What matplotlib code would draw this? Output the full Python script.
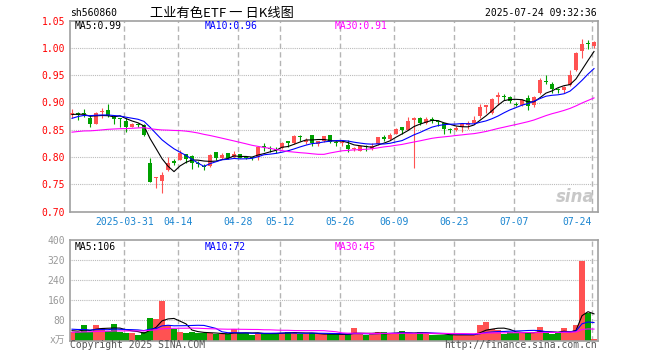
import numpy as np
import pandas as pd
import matplotlib
matplotlib.use('Agg')
import matplotlib.pyplot as plt

plt.rcParams['font.family'] = ['DejaVu Sans Mono', 'Noto Sans CJK SC']

# ---------------- data ----------------
holidays = ['2025-04-04', '2025-05-01', '2025-05-02', '2025-05-05', '2025-06-02']
dates = [d for d in pd.bdate_range('2025-03-18', '2025-07-24')
         if d.strftime('%Y-%m-%d') not in holidays]
tick_dates = ['2025-03-31', '2025-04-14', '2025-04-28', '2025-05-12', '2025-05-26',
              '2025-06-09', '2025-06-23', '2025-07-07', '2025-07-24']

opens = [0.878, 0.880, 0.880, 0.872, 0.860, 0.882, 0.887, 0.874, 0.871, 0.866,
         0.856, 0.861, 0.858, 0.790, 0.762, 0.756, 0.776, 0.792, 0.795, 0.805,
         0.802, 0.790, 0.784, 0.783, 0.809, 0.799, 0.807, 0.801, 0.806, 0.800,
         0.800, 0.801, 0.820, 0.816, 0.815, 0.816, 0.830, 0.826, 0.837, 0.828,
         0.840, 0.824, 0.829, 0.840, 0.827, 0.825, 0.823, 0.815, 0.812, 0.819,
         0.815, 0.824, 0.836, 0.833, 0.843, 0.855, 0.850, 0.868, 0.871, 0.862,
         0.869, 0.866, 0.862, 0.850, 0.849, 0.855, 0.858, 0.862, 0.875, 0.891,
         0.880, 0.910, 0.912, 0.910, 0.898, 0.895, 0.909, 0.895, 0.917, 0.940,
         0.934, 0.924, 0.923, 0.932, 0.959, 0.994, 1.009, 1.004]
highs = [0.889, 0.882, 0.888, 0.877, 0.883, 0.890, 0.898, 0.877, 0.871, 0.871,
         0.862, 0.862, 0.860, 0.799, 0.764, 0.772, 0.801, 0.797, 0.813, 0.806,
         0.803, 0.792, 0.787, 0.805, 0.810, 0.807, 0.808, 0.811, 0.806, 0.801,
         0.801, 0.820, 0.826, 0.820, 0.818, 0.827, 0.830, 0.840, 0.840, 0.835,
         0.840, 0.829, 0.838, 0.840, 0.830, 0.832, 0.832, 0.819, 0.821, 0.823,
         0.825, 0.837, 0.841, 0.844, 0.853, 0.856, 0.873, 0.874, 0.874, 0.873,
         0.873, 0.868, 0.863, 0.853, 0.857, 0.862, 0.867, 0.875, 0.897, 0.895,
         0.908, 0.920, 0.915, 0.912, 0.901, 0.907, 0.914, 0.911, 0.944, 0.951,
         0.938, 0.926, 0.930, 0.959, 0.992, 1.017, 1.015, 1.012]
lows = [0.872, 0.868, 0.874, 0.855, 0.860, 0.871, 0.874, 0.860, 0.855, 0.846,
        0.855, 0.856, 0.838, 0.754, 0.743, 0.735, 0.775, 0.785, 0.794, 0.789,
        0.779, 0.782, 0.776, 0.781, 0.795, 0.797, 0.797, 0.799, 0.798, 0.796,
        0.795, 0.795, 0.812, 0.810, 0.808, 0.815, 0.819, 0.824, 0.830, 0.824,
        0.820, 0.820, 0.827, 0.826, 0.820, 0.821, 0.809, 0.812, 0.811, 0.812,
        0.813, 0.822, 0.829, 0.832, 0.842, 0.843, 0.849, 0.780, 0.859, 0.861,
        0.862, 0.857, 0.843, 0.844, 0.847, 0.846, 0.852, 0.861, 0.872, 0.881,
        0.879, 0.895, 0.904, 0.899, 0.893, 0.894, 0.886, 0.892, 0.915, 0.934,
        0.917, 0.917, 0.917, 0.930, 0.957, 0.981, 0.998, 0.999]
closes = [0.880, 0.878, 0.879, 0.860, 0.881, 0.883, 0.876, 0.869, 0.869, 0.856,
          0.861, 0.859, 0.840, 0.755, 0.764, 0.768, 0.790, 0.790, 0.807, 0.797,
          0.790, 0.788, 0.782, 0.804, 0.799, 0.804, 0.799, 0.805, 0.799, 0.799,
          0.798, 0.818, 0.818, 0.815, 0.813, 0.826, 0.825, 0.838, 0.836, 0.832,
          0.826, 0.829, 0.838, 0.828, 0.825, 0.827, 0.815, 0.817, 0.820, 0.818,
          0.820, 0.836, 0.834, 0.841, 0.851, 0.850, 0.867, 0.871, 0.863, 0.869,
          0.867, 0.864, 0.851, 0.849, 0.854, 0.860, 0.863, 0.868, 0.892, 0.895,
          0.907, 0.913, 0.910, 0.903, 0.896, 0.904, 0.893, 0.910, 0.941, 0.938,
          0.924, 0.922, 0.929, 0.951, 0.990, 1.008, 1.007, 1.011]
volumes = [35, 33, 62, 33, 62, 49, 38, 66, 32, 28,
           28, 23, 35, 89, 85, 158, 62, 45, 35, 31,
           35, 31, 29, 29, 25, 25, 25, 45, 29, 29,
           22, 29, 29, 29, 29, 29, 35, 35, 25, 25,
           29, 25, 25, 24, 24, 24, 24, 49, 24, 21,
           24, 33, 33, 28, 28, 37, 28, 28, 35, 26,
           23, 23, 23, 21, 23, 23, 23, 23, 61, 75,
           44, 41, 25, 35, 28, 31, 35, 28, 52, 31,
           25, 28, 49, 38, 60, 318, 108, 6]

# sessions before the visible window (needed for the moving averages)
prior_closes = [0.842, 0.848, 0.855, 0.858, 0.852, 0.846, 0.850, 0.853, 0.849, 0.847,
                0.838, 0.825, 0.812, 0.803, 0.798, 0.800, 0.808, 0.815, 0.826, 0.835,
                0.845, 0.858, 0.866, 0.872, 0.879, 0.875, 0.880, 0.878, 0.877]
prior_volumes = [25, 28, 24, 30, 27, 26, 29, 31, 25, 27,
                 28, 26, 24, 30, 27, 29, 26, 28, 27, 23,
                 45, 62, 55, 48, 45, 42, 38, 44, 36]

# ---------------- derived ----------------
n = len(closes)
x = np.arange(n)
o = np.array(opens); h = np.array(highs); l = np.array(lows); c = np.array(closes)
v = np.array(volumes, dtype=float)
up = c >= o

all_c = pd.Series(prior_closes + closes)
all_v = pd.Series(prior_volumes + volumes, dtype=float)
np_ = len(prior_closes)
ma = {k: all_c.rolling(k).mean().values[np_:] for k in (5, 10, 30)}
vma = {k: all_v.rolling(k).mean().values[np_:] for k in (5, 10, 30)}

date_str = [d.strftime('%Y-%m-%d') for d in dates]
tick_idx = [date_str.index(t) for t in tick_dates]
tick_lbl = [tick_dates[0]] + [t[5:] for t in tick_dates[1:]]

RED = '#FF5252'
GREEN = '#00A000'
GRID = '#b4b4b4'
FRAME = '#a0a0a0'

W, H = 660, 360
fig = plt.figure(figsize=(6.6, 3.6), dpi=100)
L, R = 70, 597.7
pt, pb = 20.6, 211.7
vt, vb = 240, 340.5
ax1 = fig.add_axes([L / W, 1 - pb / H, (R - L) / W, (pb - pt) / H])
ax2 = fig.add_axes([L / W, 1 - vb / H, (R - L) / W, (vb - vt) / H])

xlim = (-1 / 3, (R - 72) / 6)
for ax in (ax1, ax2):
    ax.set_xlim(*xlim)
    for s in ax.spines.values():
        s.set_color(FRAME)
        s.set_linewidth(1.2)
    ax.tick_params(length=0)
    for t in tick_idx:
        ax.axvline(t - 0.3, color=GRID, lw=1.0, dashes=(3.8, 2.4), zorder=0)

# ---- price panel ----
ax1.set_ylim(0.70, 1.05)
yt = [0.70, 0.75, 0.80, 0.85, 0.90, 0.95, 1.00, 1.05]
ax1.set_yticks(yt)
ax1.set_yticklabels([f'{t:.2f}' for t in yt], color='#FF0000', fontsize=7)
ax1.tick_params(axis='y', pad=3.6)
for t in yt[1:-1]:
    ax1.axhline(t, color=GRID, lw=0.8, dashes=(0.8, 0.9), zorder=0)

cols = np.where(up, RED, GREEN)
ax1.vlines(x, l, h, colors=cols, lw=0.8, zorder=2)
body_h = np.maximum(np.abs(c - o), 0.0018)
ax1.bar(x, body_h, bottom=np.minimum(o, c), width=0.72, color=cols, lw=0, zorder=3)

ax1.plot(x, ma[5], color='black', lw=0.8, zorder=4)
ax1.plot(x, ma[10], color='#0000FF', lw=0.8, zorder=4)
ax1.plot(x, ma[30], color='#FF00FF', lw=0.8, zorder=4)

ax1.set_xticks([t - 0.3 for t in tick_idx])
ax1.set_xticklabels(tick_lbl, color='#1A85D0', fontsize=7)
ax1.get_xticklabels()[-1].set_horizontalalignment('right')
ax1.tick_params(axis='x', pad=4)

hy = 1 - 5.6 / (pb - pt)
ax1.text((75 - L) / (R - L), hy, f'MA5:{ma[5][-1]:.2f}', transform=ax1.transAxes,
         fontsize=7, color='black', va='center')
ax1.text((205 - L) / (R - L), hy, f'MA10:{ma[10][-1]:.2f}', transform=ax1.transAxes,
         fontsize=7, color='#0000FF', va='center')
ax1.text((335 - L) / (R - L), hy, f'MA30:{ma[30][-1]:.2f}', transform=ax1.transAxes,
         fontsize=7, color='#FF00FF', va='center')
ax1.text(0.995, 0.075, 'sina', transform=ax1.transAxes, ha='right', va='center',
         fontsize=12, color='#c8c8c8', style='italic', weight='bold',
         family='DejaVu Sans', zorder=1)

# ---- volume panel ----
ax2.set_ylim(0, 400)
vt_ticks = [80, 160, 240, 320, 400]
ax2.set_yticks(vt_ticks)
ax2.set_yticklabels([str(t) for t in vt_ticks], color='#999999', fontsize=7)
ax2.tick_params(axis='y', pad=3.6)
ax2.set_xticks([])
for t in vt_ticks[:-1]:
    ax2.axhline(t, color=GRID, lw=0.8, dashes=(0.8, 0.9), zorder=0)
ax2.bar(x, v, width=0.84, color=cols, lw=0, zorder=2)
ax2.plot(x, vma[5], color='black', lw=0.8, zorder=4)
ax2.plot(x, vma[10], color='#0000FF', lw=0.8, zorder=4)
ax2.plot(x, vma[30], color='#FF00FF', lw=0.8, zorder=4)
vy = 1 - 7 / (vb - vt)
ax2.text((75 - L) / (R - L), vy, f'MA5:{vma[5][-1]:.0f}', transform=ax2.transAxes,
         fontsize=7, color='black', va='center')
ax2.text((205 - L) / (R - L), vy, f'MA10:{vma[10][-1]:.0f}', transform=ax2.transAxes,
         fontsize=7, color='#0000FF', va='center')
ax2.text((335 - L) / (R - L), vy, f'MA30:{vma[30][-1]:.0f}', transform=ax2.transAxes,
         fontsize=7, color='#FF00FF', va='center')

# ---- figure texts ----
fig.text(70 / W, 1 - 13.3 / H, 'sh560860', fontsize=7, va='center', color='black')
fig.text(150 / W, 1 - 13.3 / H, '工业有色ETF 一 日K线图', fontsize=9.5, va='center',
         color='black', family=['Noto Sans CJK SC', 'DejaVu Sans'])
fig.text(596.7 / W, 1 - 13.3 / H, '2025-07-24 09:32:36', fontsize=7, va='center',
         ha='right', color='black')
fig.text(65 / W, 1 - 340 / H, 'x万', fontsize=7, va='center', ha='right', color='#999999')
fig.text(70 / W, 1 - 345.5 / H, 'Copyright 2025 SINA.COM', fontsize=7, va='center',
         color='#555555')
fig.text(597 / W, 1 - 345.5 / H, 'http://finance.sina.com.cn', fontsize=7, va='center',
         ha='right', color='#555555')

fig.savefig('out.png', dpi=100)
